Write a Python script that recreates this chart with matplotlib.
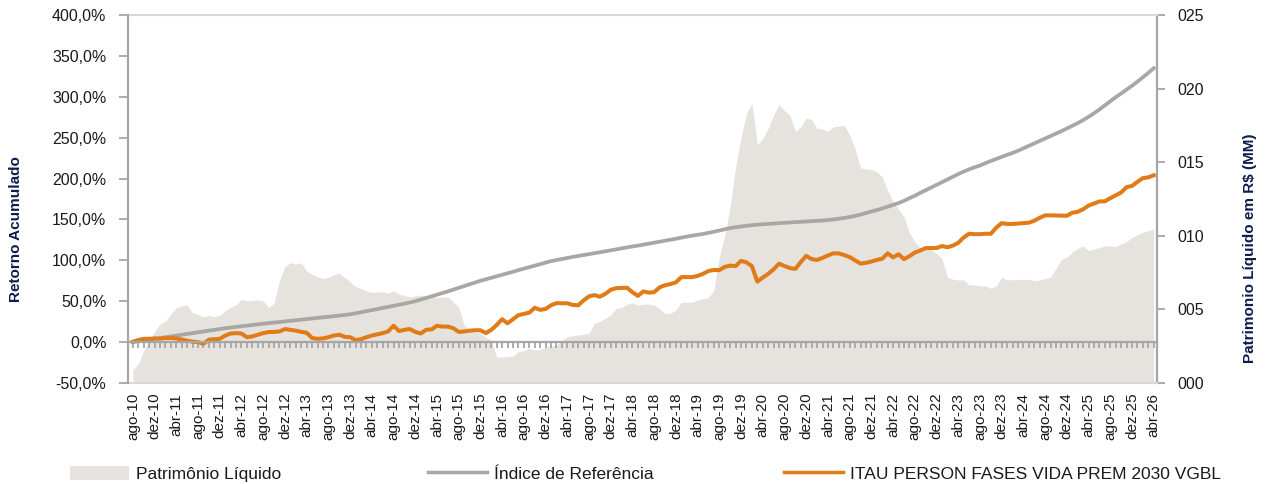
"""
Retorno acumulado x Índice de Referência x Patrimônio Líquido
ITAU PERSON FASES VIDA PREM 2030 VGBL, ago-10 .. abr-26 (mensal)
"""

import numpy as np
import matplotlib.pyplot as plt
from matplotlib.patches import Patch
from matplotlib.lines import Line2D
from matplotlib.ticker import FuncFormatter, MultipleLocator


# ---- dados (mensais, a partir de ago-10) ----
MESES = ["jan", "fev", "mar", "abr", "mai", "jun", "jul", "ago", "set", "out", "nov", "dez"]
N_MESES = 189
meses = [f"{MESES[(7 + k) % 12]}-{10 + (7 + k) // 12:02d}" for k in range(N_MESES)]

# retorno acumulado do fundo (%)
retorno_fundo = [
    0.5, 2.5, 4, 4, 4.5, 4.2, 5, 5, 4.5, 3.2, 2, 0.5,
    0, -2, 3, 3.5, 4, 8, 10.5, 11, 10.5, 6, 7, 9,
    11, 12.3, 12.5, 13, 16, 15, 14, 12.5, 11.5, 5, 4, 4.5,
    6, 8, 9, 6.5, 6, 2.5, 3.5, 6, 8, 9.5, 11, 13,
    20, 13.5, 15, 16, 12.5, 10.5, 15, 15.5, 20, 19, 19, 17,
    12.5, 13, 14, 14.5, 14.5, 11, 15, 21, 28, 23, 28, 33,
    34.5, 36, 42, 39.5, 40.5, 45, 47.7, 47.5, 47.5, 45.5, 45, 51,
    56, 57.5, 55.5, 59, 64, 66, 66.3, 66.5, 61, 56.5, 62, 60.5,
    61, 67, 69.5, 71, 73, 79.5, 79.5, 79.5, 81, 83.5, 87, 88.2,
    88, 92, 93.5, 93, 99.4, 97.5, 93, 74, 79, 83.5, 89, 96,
    93, 90.5, 89.5, 98, 105.5, 101.5, 100.5, 103, 106, 108.5, 108.5, 106.5,
    104, 100, 96, 97, 98.5, 100.5, 102, 108.5, 103.5, 107.5, 101.5, 105,
    109.5, 112, 115, 115, 115, 117.5, 116, 118, 121.5, 128, 132.5, 132,
    132, 132.5, 132.5, 140, 145.5, 144.5, 144.5, 145, 145.5, 146, 148.5, 152,
    155, 155, 154.8, 154.5, 154.5, 158.3, 159.3, 162.5, 167, 169.5, 172, 172.2,
    176, 179.5, 183, 189.5, 191, 196, 200.5, 201.5, 204,
]

# índice de referência (%)
indice_ref = [
    0, 1, 2, 3, 4, 5, 6, 7, 8, 9, 10, 11,
    12, 13, 14, 15, 16, 17, 17.8, 18.6, 19.4, 20.2, 21, 21.8,
    22.5, 23.2, 23.8, 24.5, 25.2, 26, 26.6, 27.3, 28, 28.7, 29.4, 30.1,
    30.8, 31.6, 32.4, 33.2, 34, 35.2, 36.5, 37.8, 39.1, 40.4, 41.7, 43,
    44.3, 45.6, 47, 48.5, 50, 52, 54, 56, 58, 60, 62, 64.2,
    66.4, 68.5, 70.6, 72.8, 75, 76.8, 78.6, 80.5, 82.4, 84.2, 86, 88,
    89.8, 91.6, 93.4, 95.3, 97.2, 99, 100.3, 101.7, 103, 104.2, 105.3, 106.5,
    107.6, 108.8, 109.9, 111, 112.2, 113.4, 114.6, 115.8, 117, 118, 119.2, 120.4,
    121.6, 122.8, 124, 125.2, 126.4, 127.8, 129, 130.2, 131.2, 132.3, 133.6, 135,
    136.4, 138, 139.4, 140.5, 141.4, 142.3, 143, 143.6, 144.1, 144.6, 145, 145.5,
    145.9, 146.3, 146.7, 147, 147.4, 147.8, 148.2, 148.7, 149.3, 150, 150.8, 151.8,
    153, 154.4, 156, 157.8, 159.7, 161.5, 163.5, 165.6, 167.8, 170, 172.8, 176,
    179, 182.5, 185.7, 189, 192.3, 195.6, 199, 202.3, 205.5, 208.5, 211.3, 213.8,
    216, 218.8, 221.5, 224, 226.5, 229, 231.3, 234, 237, 240, 243, 246,
    249, 252, 255, 258, 261.2, 264.5, 267.8, 271.5, 275.5, 279.8, 284.5, 289.5,
    294.5, 299.5, 304, 308.7, 313.5, 318.5, 323.8, 329.2, 335,
]

# patrimônio líquido (R$ MM)
patrimonio = [
    0.9, 1.3, 2.2, 2.9, 3.5, 4.0, 4.2, 4.7, 5.1, 5.25, 5.3, 4.75,
    4.67, 4.5, 4.6, 4.5, 4.6, 4.9, 5.15, 5.3, 5.7, 5.57, 5.6, 5.64,
    5.59, 5.12, 5.41, 7.0, 7.9, 8.17, 8.08, 8.17, 7.6, 7.4, 7.2, 7.11,
    7.18, 7.35, 7.45, 7.18, 6.88, 6.54, 6.43, 6.25, 6.16, 6.18, 6.2, 6.1,
    6.27, 6.05, 5.95, 5.86, 5.92, 5.98, 5.9, 5.86, 5.82, 5.84, 5.86, 5.5,
    5.18, 3.94, 3.6, 3.45, 3.38, 3.1, 2.92, 1.8, 1.75, 1.8, 1.83, 2.13,
    2.2, 2.36, 2.24, 2.3, 2.42, 2.5, 2.58, 2.9, 3.15, 3.21, 3.26, 3.3,
    3.38, 4.06, 4.17, 4.4, 4.62, 5.07, 5.12, 5.35, 5.46, 5.3, 5.35, 5.37,
    5.3, 5.07, 4.73, 4.73, 4.96, 5.48, 5.48, 5.48, 5.64, 5.72, 5.8, 6.3,
    8.6, 10.0, 12.0, 14.7, 16.7, 18.3, 19.0, 16.2, 16.6, 17.3, 18.2, 18.9,
    18.5, 18.2, 17.1, 17.4, 18.0, 17.9, 17.3, 17.25, 17.1, 17.4, 17.45, 17.5,
    16.85, 15.9, 14.6, 14.55, 14.5, 14.35, 14.0, 13.1, 12.3, 11.8, 11.3, 10.2,
    9.6, 9.15, 9.1, 9.03, 8.8, 8.47, 7.18, 7.05, 7.0, 7.0, 6.66, 6.66,
    6.59, 6.6, 6.43, 6.6, 7.18, 7.0, 7.02, 7.04, 7.04, 7.04, 6.95, 7.0,
    7.1, 7.18, 7.79, 8.4, 8.54, 8.88, 9.15, 9.3, 8.99, 9.1, 9.2, 9.33,
    9.3, 9.26, 9.45, 9.6, 9.9, 10.05, 10.25, 10.35, 10.44,
]

assert len(retorno_fundo) == len(indice_ref) == len(patrimonio) == N_MESES

# ---- estilo ----
COR_PL = "#e6e3df"
COR_INDICE = "#a9a7a4"
COR_FUNDO = "#e07b18"
COR_EIXO = "#a6a6a6"
COR_BORDA = "#d9d9d9"
COR_TITULO = "#0d1b4d"
COR_TEXTO = "#1a1a1a"

plt.rcParams["font.family"] = ["Liberation Sans", "DejaVu Sans"]


def main():
    fig = plt.figure(figsize=(12.72, 4.84), dpi=100)
    ax = fig.add_axes([128 / 1272, 1 - 383 / 484, 1029 / 1272, 368 / 484])
    ax2 = ax.twinx()
    # linhas por cima da área
    ax.set_zorder(ax2.get_zorder() + 1)
    ax.patch.set_visible(False)

    x = np.arange(N_MESES)

    ax2.fill_between(x, 0, patrimonio, color=COR_PL, linewidth=0)
    ax.plot(x, indice_ref, color=COR_INDICE, linewidth=2.7)
    ax.plot(x, retorno_fundo, color=COR_FUNDO, linewidth=2.9)

    ax.set_xlim(-0.9, 188.6)
    ax.set_ylim(-50, 400)
    ax2.set_ylim(0, 25)

    # eixo esquerdo
    ax.yaxis.set_major_locator(MultipleLocator(50))
    ax.yaxis.set_major_formatter(FuncFormatter(lambda v, _: f"{v:.1f}%".replace(".", ",")))
    ax.tick_params(axis="y", length=6.5, width=1.3, color=COR_EIXO, pad=9,
                   labelsize=11.5, labelcolor=COR_TEXTO)

    # eixo direito
    ax2.yaxis.set_major_locator(MultipleLocator(5))
    ax2.yaxis.set_major_formatter(FuncFormatter(lambda v, _: f"{v:03.0f}"))
    ax2.tick_params(axis="y", length=6, width=1.3, color=COR_EIXO, pad=9,
                    labelsize=11.5, labelcolor=COR_TEXTO)

    # linha do zero com marcas mensais
    ax.spines["bottom"].set_position(("data", 0))
    ax.spines["bottom"].set_color(COR_EIXO)
    ax.spines["bottom"].set_linewidth(1.6)
    ax.set_xticks(x)
    ax.tick_params(axis="x", length=4.5, width=1.3, color=COR_EIXO, labelbottom=False)

    ax.spines["left"].set_color(COR_EIXO)
    ax.spines["left"].set_linewidth(1.6)
    ax.spines["top"].set_visible(False)
    ax.spines["right"].set_visible(False)

    ax2.spines["left"].set_visible(False)
    ax2.spines["right"].set_color(COR_EIXO)
    ax2.spines["right"].set_linewidth(1.6)
    for s in ("top", "bottom"):
        ax2.spines[s].set_color(COR_BORDA)
        ax2.spines[s].set_linewidth(1.5)

    # rótulos dos meses (a cada 4) no pé do gráfico
    sec = ax.secondary_xaxis(0)
    sec.set_xticks(x[::4], labels=meses[::4])
    sec.tick_params(length=0, pad=7, labelsize=11, labelrotation=90, labelcolor=COR_TEXTO)
    sec.spines["bottom"].set_visible(False)

    fig.text(16 / 1272, 1 - 229 / 484, "Retorno Acumulado", rotation=90,
             ha="center", va="center", fontsize=11, fontweight="bold", color=COR_TITULO)
    fig.text(1250 / 1272, 1 - 248 / 484, "Patrimonio Líquido em R$ (MM)", rotation=90,
             ha="center", va="center", fontsize=11, fontweight="bold", color=COR_TITULO)

    # legenda em três blocos
    itens = [
        (Patch(facecolor=COR_PL, edgecolor="none"), "Patrimônio Líquido", 70),
        (Line2D([], [], color=COR_INDICE, linewidth=2.5), "Índice de Referência", 428),
        (Line2D([], [], color=COR_FUNDO, linewidth=2.5), "ITAU PERSON FASES VIDA PREM 2030 VGBL", 784),
    ]
    for handle, texto, x0 in itens:
        fig.legend(
            [handle], [texto],
            loc="center left",
            bbox_to_anchor=(x0 / 1272, 1 - 474 / 484),
            frameon=False,
            fontsize=12.5,
            handlelength=3.4,
            handleheight=0.9,
            handletextpad=0.4,
            borderpad=0,
            borderaxespad=0,
            labelcolor=COR_TEXTO,
        )

    fig.savefig("out.png", dpi=100)
    plt.close(fig)


if __name__ == "__main__":
    main()
